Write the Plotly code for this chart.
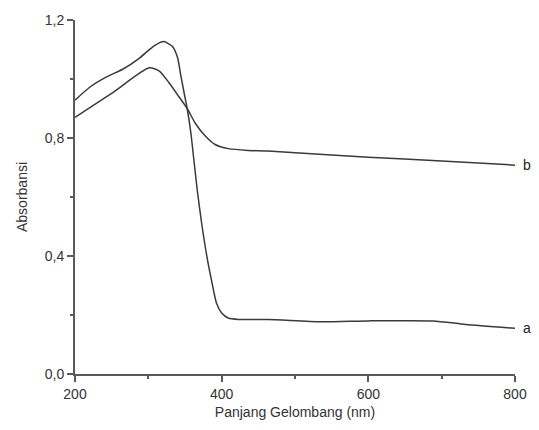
import plotly.graph_objects as go

# Absorption spectra (wavelength in nm, absorbance)
wl_a = [200, 220, 243, 265, 288, 301, 310, 321, 333, 340, 344, 349, 353, 358, 362,
        367, 373, 380, 387, 393, 400, 409, 423, 463, 535, 600, 688, 733, 800]
abs_a = [0.928, 0.972, 1.007, 1.033, 1.071, 1.099, 1.116, 1.127, 1.110, 1.071, 1.016,
         0.950, 0.900, 0.817, 0.728, 0.617, 0.506, 0.396, 0.307, 0.240, 0.207, 0.190,
         0.185, 0.185, 0.177, 0.180, 0.180, 0.168, 0.155]

wl_b = [200, 252, 301, 315, 328, 342, 353, 364, 378, 391, 409, 436, 463, 600, 700, 800]
abs_b = [0.870, 0.955, 1.038, 1.027, 0.988, 0.939, 0.900, 0.850, 0.806, 0.778, 0.764,
         0.758, 0.756, 0.735, 0.722, 0.708]

series_labels = ["a", "b"]

x_ticks = [200, 400, 600, 800]
y_ticks = [0.0, 0.4, 0.8, 1.2]

line_color = "#3a3a3a"
axis_color = "#5a5a5a"
font_family = "Liberation Sans, Arial, sans-serif"

fig = go.Figure()
for wl, ab, name in [(wl_a, abs_a, series_labels[0]), (wl_b, abs_b, series_labels[1])]:
    fig.add_trace(go.Scatter(
        x=wl, y=ab, mode="lines", name=name,
        line=dict(color=line_color, width=1.5, shape="spline", smoothing=0.6),
        showlegend=False, hoverinfo="skip",
    ))
    fig.add_annotation(
        x=wl[-1], y=ab[-1], xref="x", yref="y", text=name, showarrow=False,
        xanchor="left", yanchor="middle", xshift=6,
        font=dict(family=font_family, size=14, color="#222"),
    )

fig.update_layout(
    width=539, height=430,
    margin=dict(l=75, r=20, t=18, b=51),
    paper_bgcolor="white", plot_bgcolor="white",
    separators=",.",
    font=dict(family=font_family, size=14, color="#333"),
    xaxis=dict(
        range=[200, 800], tickvals=x_ticks, tickformat="d",
        showgrid=False, zeroline=False,
        showline=True, linecolor=axis_color, linewidth=2,
        ticks="outside", ticklen=6, tickwidth=1.5, tickcolor=axis_color,
        minor=dict(tickvals=[300, 500, 700], ticks="outside", ticklen=3,
                   tickwidth=1.5, tickcolor=axis_color, showgrid=False),
        title=dict(text="Panjang Gelombang (nm)", standoff=6,
                   font=dict(size=14, color="#333")),
    ),
    yaxis=dict(
        range=[0, 1.2], tickvals=y_ticks, tickformat=".1f",
        showgrid=False, zeroline=False,
        showline=True, linecolor=axis_color, linewidth=2,
        ticks="outside", ticklen=6, tickwidth=1.5, tickcolor=axis_color,
        minor=dict(tickvals=[0.2, 0.6, 1.0], ticks="outside", ticklen=3,
                   tickwidth=1.5, tickcolor=axis_color, showgrid=False),
        title=dict(text="Absorbansi", standoff=14,
                   font=dict(size=14, color="#333")),
    ),
)

fig.write_html("out.html")
